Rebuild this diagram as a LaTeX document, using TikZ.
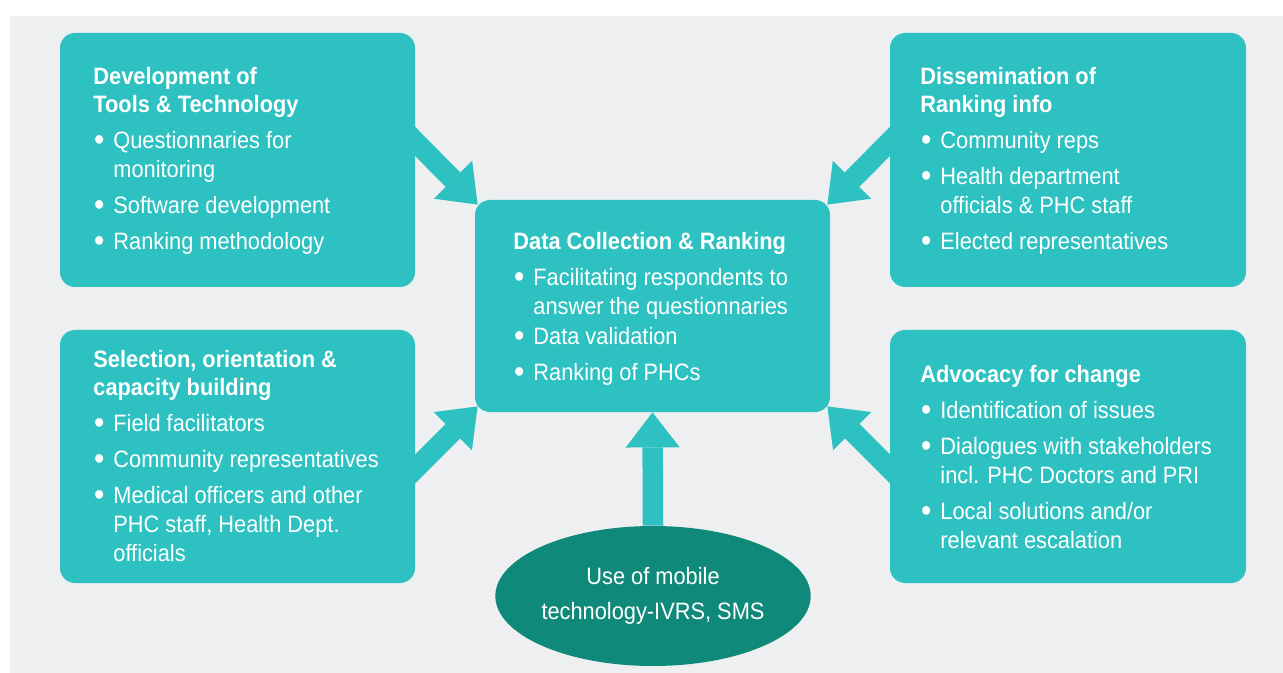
\documentclass[tikz,border=0pt]{standalone}
\usepackage{fontspec}
\usepackage{graphicx}
\setmainfont{Liberation Sans}[FakeStretch=0.92]
\usetikzlibrary{arrows.meta,shapes.geometric,calc}
\definecolor{boxteal}{HTML}{2EC1C1}
\definecolor{darkteal}{HTML}{0F8A7A}
\definecolor{bggray}{HTML}{EEEFF1}
\tikzset{
  panel/.style={fill=boxteal, rounded corners=7.5pt, inner sep=0pt},
  paneltext/.style={anchor=north west, inner sep=0pt, align=left, text=white,
    font=\fontsize{11.85}{14.5}\selectfont},
  fatarrow/.style={draw=boxteal, line width=10.25pt,
    -{Triangle[width=27pt,length=17.5pt,line width=0pt,fill=boxteal]}}
}
\newcommand{\bul}{\makebox[10pt][l]{\hspace*{0.3pt}\raisebox{-1.1pt}{\scalebox{1.35}{\textbullet}}}}
\newcommand{\ind}{\hspace*{10pt}}
\begin{document}
\begin{tikzpicture}[x=0.5pt,y=-0.5pt]
\useasboundingbox (0,0) rectangle (1283,673);
\fill[bggray] (10,16) rectangle (1283,673);
% the five boxes
\node[panel, minimum width=177.5pt, minimum height=127pt] (tools) at (237.5,160) {};
\node[panel, minimum width=178pt, minimum height=127pt] (dissem) at (1068,160) {};
\node[panel, minimum width=177.5pt, minimum height=126.5pt] (select) at (237.5,456.5) {};
\node[panel, minimum width=178pt, minimum height=126.5pt] (advocacy) at (1068,456.5) {};
\node[panel, minimum width=177.5pt, minimum height=106pt] (collect) at (652.5,306) {};
\node[ellipse, fill=darkteal, minimum width=155pt, minimum height=70pt, inner sep=0pt,
  text=white, align=center, font=\fontsize{11.85}{17.5}\selectfont] (mobile) at (653,596)
  {Use of mobile\\technology-IVRS, SMS};
% arrows into the centre
\draw[fatarrow] ($(tools.north east)+(-10,99)$) -- ($(collect.north west)+(3,5)$);
\draw[fatarrow] ($(dissem.north west)+(10,99)$) -- ($(collect.north east)+(-3,5)$);
\draw[fatarrow] ($(select.north east)+(-10,149)$) -- ($(collect.south west)+(3,-6)$);
\draw[fatarrow] ($(advocacy.north west)+(10,149)$) -- ($(collect.south east)+(-3,-6)$);
\draw[fatarrow] (mobile.north) -- (collect.south);
% texts
\node[paneltext] (toolstxt) at (93,67) {\textbf{Development of}\\[-0.5pt]\textbf{Tools \& Technology}\\[3.5pt]
  \bul Questionnaries for\\\ind monitoring\\[3.5pt]
  \bul Software development\\[3.5pt]
  \bul Ranking methodology};
\node[paneltext] (dissemtxt) at (920,67) {\textbf{Dissemination of}\\[-0.5pt]\textbf{Ranking info}\\[3.5pt]
  \bul Community reps\\[3.5pt]
  \bul Health department\\\ind officials \& PHC staff\\[3.5pt]
  \bul Elected representatives};
\node[paneltext] (selecttxt) at (93,349.5) {\textbf{Selection, orientation \&}\\[-0.5pt]\textbf{capacity building}\\[3.5pt]
  \bul Field facilitators\\[3.5pt]
  \bul Community representatives\\[3.5pt]
  \bul Medical officers and other\\\ind PHC staff, Health Dept.\\\ind officials};
\node[paneltext] (advocacytxt) at (920,364.5) {\textbf{Advocacy for change}\\[3.5pt]
  \bul Identification of issues\\[3.5pt]
  \bul Dialogues with stakeholders\\\ind incl. PHC Doctors and PRI\\[3.5pt]
  \bul Local solutions and/or\\\ind relevant escalation};
\node[paneltext] (collecttxt) at (513,231.5) {\textbf{Data Collection \& Ranking}\\[3.5pt]
  \bul Facilitating respondents to\\\ind answer the questionnaries\\[0.5pt]
  \bul Data validation\\[3.5pt]
  \bul Ranking of PHCs};
\end{tikzpicture}
\end{document}
